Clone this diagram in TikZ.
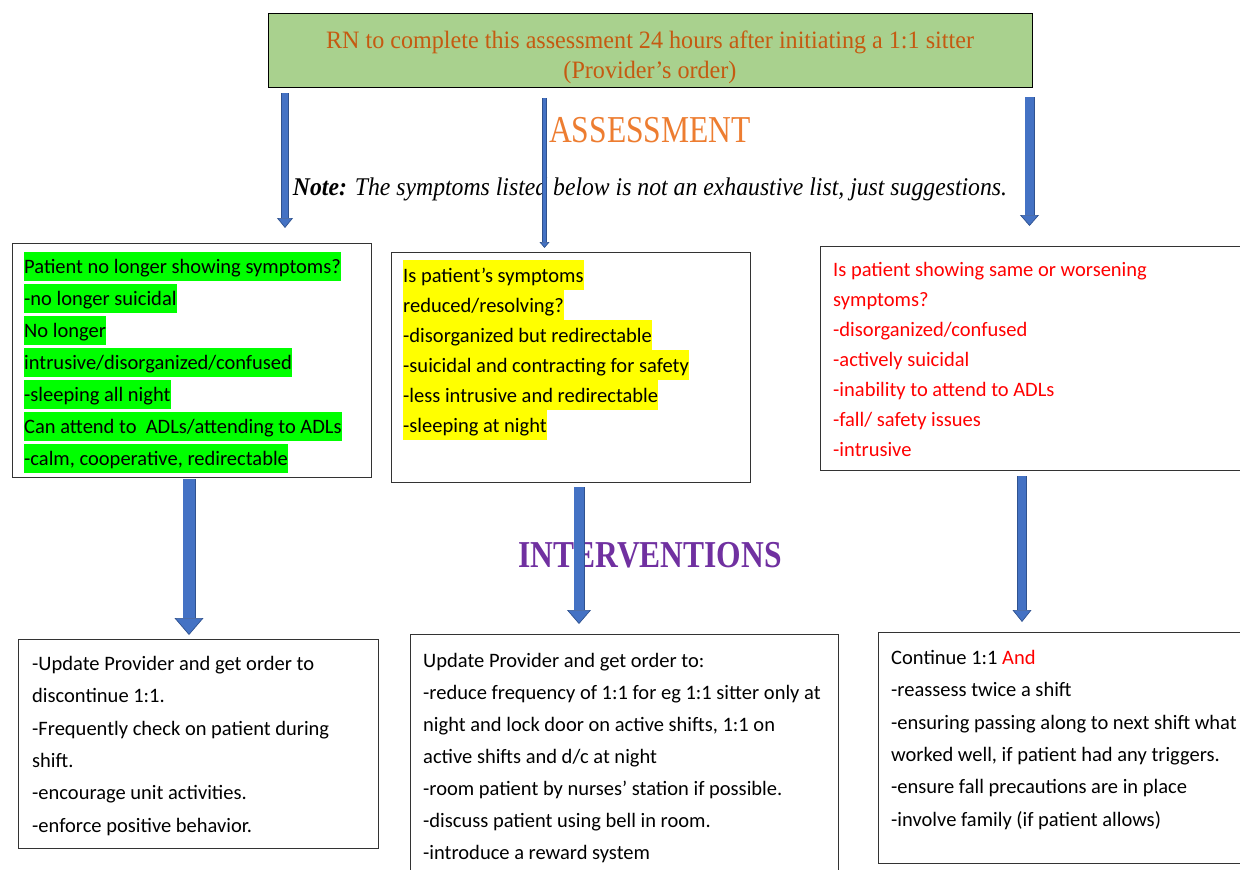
\documentclass[tikz,border=0pt]{standalone}
\usepackage{fontspec}
\setmainfont{Carlito}
\newfontfamily\headserif[FakeStretch=0.83]{Liberation Serif}
\newfontfamily\titleserif[FakeStretch=0.965]{Liberation Serif}
\newfontfamily\noteserif[FakeStretch=0.93]{Liberation Serif}
\usetikzlibrary{arrows.meta,positioning}
\definecolor{titlefill}{HTML}{A9D18E}
\definecolor{titletext}{HTML}{C55A11}
\definecolor{assesscol}{HTML}{ED7D31}
\definecolor{intervcol}{HTML}{7030A0}
\definecolor{arrowfill}{HTML}{4472C4}
\definecolor{arrowedge}{HTML}{2F528F}
\definecolor{hlgreen}{HTML}{00FF00}
\definecolor{hlyellow}{HTML}{FFFF00}
\definecolor{alertred}{HTML}{FF0000}
\setlength{\fboxsep}{0pt}
\newcommand\hlg[1]{\colorbox{hlgreen}{\rule[-8pt]{0pt}{29pt}#1}}
\newcommand\hly[1]{\colorbox{hlyellow}{\rule[-8pt]{0pt}{30pt}#1}}
\newcommand\firstrow{\rule[-8pt]{0pt}{29pt}}
\tikzset{
  panel/.style={draw=black!80, line width=0.9pt, anchor=north west, inner sep=0pt},
  paneltext/.style={anchor=north west, inner sep=0pt, align=left,
    font=\fontsize{20.5}{#1}\selectfont},
  blockarrow/.style n args={3}{draw=arrowedge, line width=0.7pt,
    double=arrowfill, double distance=#1,
    -{Triangle[width=#2, length=#3, fill=arrowfill, line width=0.7pt]}},
}
\begin{document}
\begin{tikzpicture}[x=1pt, y=-1pt]
  \useasboundingbox (0,0) rectangle (1240,870);

  % heading
  \node[draw=black, line width=0.9pt, fill=titlefill, minimum width=764pt, minimum height=74pt] (title) at (650,50) {};
  \node[align=center, text=titletext, font=\titleserif\fontsize{25}{30}\selectfont] (titletxt) at (650,57.5)
    {RN to complete this assessment 24 hours after initiating a 1:1 sitter\\(Provider’s order)};
  \node[anchor=base, text=assesscol, font=\headserif\fontsize{38}{40}\selectfont] (assess) at (650,142) {ASSESSMENT};
  \node[anchor=base, font=\noteserif\itshape\fontsize{25.5}{28}\selectfont] (note) at (650,195)
    {\textbf{Note:} The symptoms listed below is not an exhaustive list, just suggestions.};

  % assessment boxes
  \node[panel, minimum width=359pt, minimum height=234pt] (good) at (12,243) {};
  \node[paneltext=32] (goodtxt) at ([xshift=12pt, yshift=-9pt]good.north west)
    {\hlg{Patient no longer showing symptoms?}\\
     \hlg{-no longer suicidal}\\
     \hlg{No longer}\\
     \hlg{intrusive/disorganized/confused}\\
     \hlg{-sleeping all night}\\
     \hlg{Can attend to~\ ADLs/attending to ADLs}\\
     \hlg{-calm, cooperative, redirectable}};

  \node[panel, minimum width=359pt, minimum height=230pt] (better) at (391,252) {};
  \node[paneltext=30] (bettertxt) at ([xshift=12pt, yshift=-8pt]better.north west)
    {\hly{Is patient’s symptoms}\\
     \hly{reduced/resolving?}\\
     \hly{-disorganized but redirectable}\\
     \hly{-suicidal and contracting for safety}\\
     \hly{-less intrusive and redirectable}\\
     \hly{-sleeping at night}};

  \node[panel, minimum width=440pt, minimum height=224pt] (worse) at (820,246) {};
  \node[paneltext=30, text=alertred] (worsetxt) at ([xshift=13pt, yshift=-9.5pt]worse.north west)
    {\firstrow Is patient showing same or worsening\\
     symptoms?\\
     -disorganized/confused\\
     -actively suicidal\\
     -inability to attend to ADLs\\
     -fall/ safety issues\\
     -intrusive};

  \node[anchor=base, text=intervcol, font=\headserif\bfseries\fontsize{38}{40}\selectfont] (interv) at (650,567) {INTERVENTIONS};

  % intervention boxes
  \node[panel, minimum width=360pt, minimum height=209pt] (stop) at (18,639) {};
  \node[paneltext=32.4] (stoptxt) at ([xshift=14pt, yshift=-10pt]stop.north west)
    {\firstrow -Update Provider and get order to\\
     discontinue 1:1.\\
     -Frequently check on patient during\\
     shift.\\
     -encourage unit activities.\\
     -enforce positive behavior.};

  \node[panel, minimum width=428pt, minimum height=250pt] (reduce) at (410,634) {};
  \node[paneltext=32] (reducetxt) at ([xshift=13pt, yshift=-12pt]reduce.north west)
    {\firstrow Update Provider and get order to:\\
     -reduce frequency of 1:1 for eg 1:1 sitter only at\\
     night and lock door on active shifts, 1:1 on\\
     active shifts and d/c at night\\
     -room patient by nurses’ station if possible.\\
     -discuss patient using bell in room.\\
     -introduce a reward system};

  \node[panel, minimum width=382pt, minimum height=231pt] (keep) at (878,632) {};
  \node[paneltext=32.4] (keeptxt) at ([xshift=13pt, yshift=-11pt]keep.north west)
    {\firstrow Continue 1:1 \textcolor{alertred}{And}\\
     -reassess twice a shift\\
     -ensuring passing along to next shift what\\
     worked well, if patient had any triggers.\\
     -ensure fall precautions are in place\\
     -involve family (if patient allows)};

  % arrow ends
  \coordinate (a1) at (285,93);     \coordinate (a1e) at (285,228);
  \coordinate (a2) at (544.5,98);   \coordinate (a2e) at (544.5,248);
  \coordinate (a3) at (1029.5,97);  \coordinate (a3e) at (1029.5,226);
  \coordinate (b1) at (189,479);    \coordinate (b1e) at (189,635);
  \coordinate (b2) at (579,487);    \coordinate (b2e) at (579,624);
  \coordinate (b3) at (1022,476);   \coordinate (b3e) at (1022,622);

  \draw[blockarrow={6.6pt}{16pt}{10pt}] (a1) -- (a1e);
  \draw[blockarrow={3.6pt}{10pt}{6pt}] (a2) -- (a2e);
  \draw[blockarrow={8.6pt}{19pt}{11pt}] (a3) -- (a3e);
  \draw[blockarrow={11.6pt}{29pt}{17pt}] (b1) -- (b1e);
  \draw[blockarrow={9.6pt}{24pt}{14pt}] (b2) -- (b2e);
  \draw[blockarrow={8.6pt}{19pt}{12pt}] (b3) -- (b3e);
\end{tikzpicture}
\end{document}
